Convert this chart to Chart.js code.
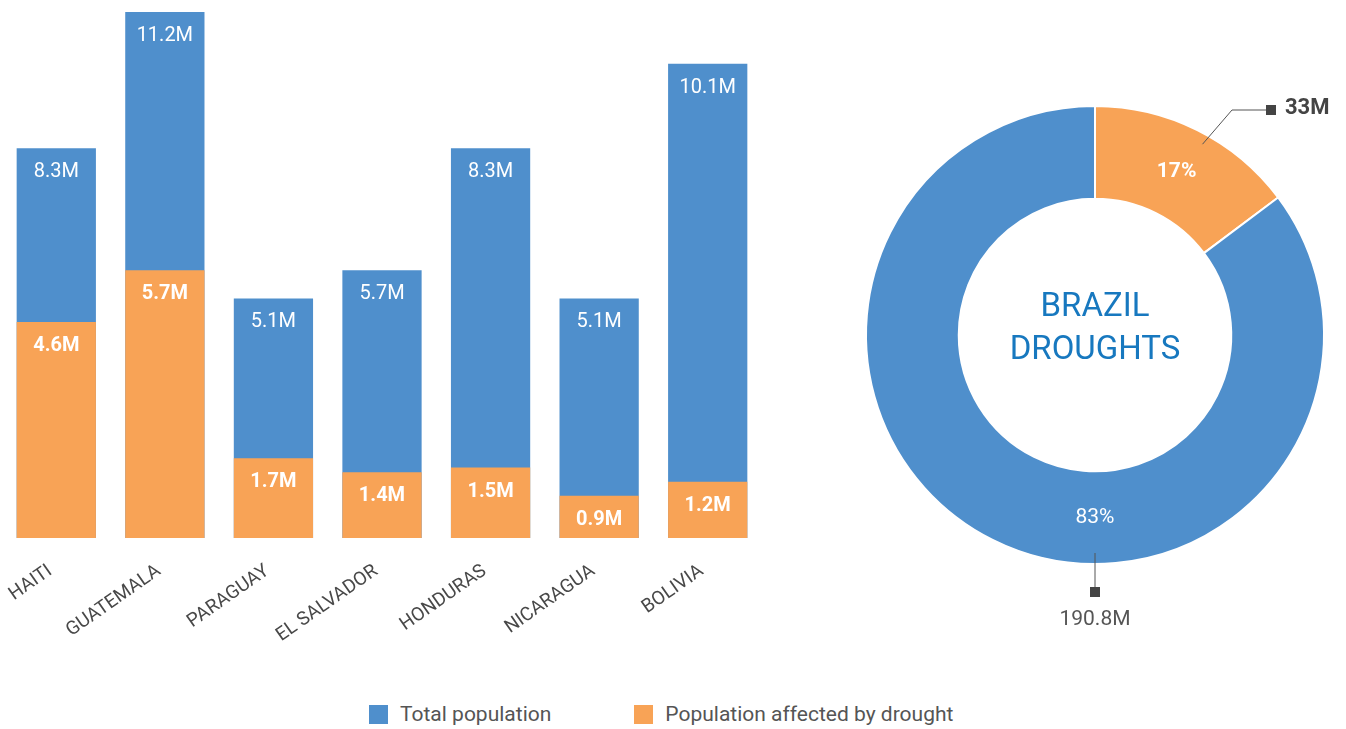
<!DOCTYPE html>
<html>
<head>
<meta charset="utf-8">
<title>Population affected by drought</title>
<script src="https://cdn.jsdelivr.net/npm/chart.js@4.4.1/dist/chart.umd.min.js"></script>
<style>
  html, body { margin: 0; padding: 0; background: #fff; overflow: hidden; }
  body { width: 1346px; height: 729px; position: relative; font-family: Roboto, "Noto Sans", sans-serif; }
  #barWrap { position: absolute; left: 0; top: 0; width: 770px; height: 660px; }
  #pieWrap { position: absolute; left: 845px; top: 75px; width: 500px; height: 580px; }
  #legend { position: absolute; left: 369px; top: 702px; display: flex; align-items: center; color: #555; font-size: 21px; }
  .item { display: flex; align-items: center; margin-right: 83px; }
  .box { width: 19px; height: 19px; margin-right: 12px; }
</style>
</head>
<body>
<div id="barWrap"><canvas id="bars"></canvas></div>
<div id="pieWrap"><canvas id="donut"></canvas></div>
<div id="legend"></div>
<script>
// Countries and populations (millions)
const countries = ['HAITI', 'GUATEMALA', 'PARAGUAY', 'EL SALVADOR', 'HONDURAS', 'NICARAGUA', 'BOLIVIA'];
const totalPopulation = [8.3, 11.2, 5.1, 5.7, 8.3, 5.1, 10.1];
const affectedPopulation = [4.6, 5.7, 1.7, 1.4, 1.5, 0.9, 1.2];

// Brazil: affected vs. rest of population (millions)
const brazilLabels = ['Affected by drought', 'Not affected'];
const brazilValues = [33, 190.8];
const brazilShares = ['17%', '83%'];
const brazilTitle = ['BRAZIL', 'DROUGHTS'];

const seriesNames = ['Total population', 'Population affected by drought'];
const BLUE = '#4F8FCC';
const ORANGE = '#F8A356';
const FONT = 'Roboto, "Noto Sans", sans-serif';

const fmt = v => v.toFixed(1) + 'M';

// Legend
const legend = document.getElementById('legend');
[[seriesNames[0], BLUE], [seriesNames[1], ORANGE]].forEach(([name, color]) => {
  const item = document.createElement('div');
  item.className = 'item';
  const box = document.createElement('span');
  box.className = 'box';
  box.style.background = color;
  const txt = document.createElement('span');
  txt.textContent = name;
  item.appendChild(box);
  item.appendChild(txt);
  legend.appendChild(item);
});

// Value labels inside each bar, just below its top
const barValueLabels = {
  id: 'barValueLabels',
  afterDatasetsDraw(chart) {
    const ctx = chart.ctx;
    chart.data.datasets.forEach((ds, i) => {
      chart.getDatasetMeta(i).data.forEach((bar, j) => {
        ctx.save();
        ctx.fillStyle = '#ffffff';
        ctx.font = (i === 1 ? 'bold ' : '') + '20px ' + FONT;
        ctx.textAlign = 'center';
        ctx.textBaseline = 'middle';
        ctx.fillText(fmt(ds.data[j]), bar.x, bar.y + 24);
        ctx.restore();
      });
    });
  }
};

new Chart(document.getElementById('bars'), {
  type: 'bar',
  data: {
    labels: countries,
    datasets: [
      { label: seriesNames[0], data: totalPopulation, backgroundColor: BLUE, order: 2 },
      { label: seriesNames[1], data: affectedPopulation, backgroundColor: ORANGE, order: 1 }
    ]
  },
  options: {
    responsive: true,
    maintainAspectRatio: false,
    animation: false,
    grouped: false,
    categoryPercentage: 1,
    barPercentage: 0.73,
    layout: { padding: { left: 2, right: 8, top: 12, bottom: 0 } },
    plugins: { legend: { display: false }, tooltip: { enabled: false } },
    scales: {
      x: {
        grid: { display: false, drawTicks: false },
        border: { display: false },
        ticks: {
          minRotation: 35, maxRotation: 35, padding: 22, labelOffset: -6,
          color: '#484848', font: { family: FONT, size: 19 }
        },
        afterFit(scale) {
          scale.height = 122;
          scale.paddingLeft = 0;
          scale.paddingRight = 0;
        }
      },
      y: { display: false, min: 0, max: 11.2 }
    }
  },
  plugins: [barValueLabels]
});

// Percent labels, centre title and callouts for the doughnut
const donutDecor = {
  id: 'donutDecor',
  afterDatasetsDraw(chart) {
    const ctx = chart.ctx;
    const arcs = chart.getDatasetMeta(0).data;
    const a0 = arcs[0];
    const cx = a0.x, cy = a0.y, R = a0.outerRadius, r = a0.innerRadius;
    const mid = (R + r) / 2;
    const pol = (ang, rad) => [cx + Math.cos(ang) * rad, cy + Math.sin(ang) * rad];

    ctx.save();
    ctx.textAlign = 'center';
    ctx.textBaseline = 'middle';

    // centre title
    ctx.fillStyle = '#1778BF';
    ctx.font = '33px ' + FONT;
    ctx.fillText(brazilTitle[0], cx, cy - 27);
    ctx.fillText(brazilTitle[1], cx, cy + 16);

    // share labels
    const ang0 = (a0.startAngle + a0.endAngle) / 2;
    const ang1 = Math.PI / 2;
    ctx.fillStyle = '#ffffff';
    ctx.font = 'bold 21px ' + FONT;
    let p = pol(ang0, mid);
    ctx.fillText(brazilShares[0], p[0], p[1]);
    ctx.font = '21px ' + FONT;
    p = pol(ang1, mid);
    ctx.fillText(brazilShares[1], p[0], p[1]);

    // callout for the affected slice
    ctx.strokeStyle = '#555';
    ctx.lineWidth = 1;
    ctx.fillStyle = '#444';
    const s0 = pol(ang0 + 0.05, R - 10);
    const e0 = [cx + 137, cy - 225];
    ctx.beginPath();
    ctx.moveTo(s0[0], s0[1]);
    ctx.lineTo(e0[0], e0[1]);
    ctx.lineTo(e0[0] + 34, e0[1]);
    ctx.stroke();
    ctx.fillRect(e0[0] + 34, e0[1] - 5, 10, 10);
    ctx.textAlign = 'left';
    ctx.font = 'bold 22px ' + FONT;
    ctx.fillText(brazilValues[0] + 'M', e0[0] + 53, e0[1] - 2);

    // callout for the remaining slice
    const s1 = pol(ang1, R - 11);
    ctx.beginPath();
    ctx.moveTo(s1[0], s1[1]);
    ctx.lineTo(s1[0], s1[1] + 34);
    ctx.stroke();
    ctx.fillRect(s1[0] - 5, s1[1] + 34, 10, 10);
    ctx.textAlign = 'center';
    ctx.fillStyle = '#555';
    ctx.font = '21px ' + FONT;
    ctx.fillText(brazilValues[1].toFixed(1) + 'M', s1[0], s1[1] + 67);
    ctx.restore();
  }
};

new Chart(document.getElementById('donut'), {
  type: 'doughnut',
  data: {
    labels: brazilLabels,
    datasets: [{
      data: brazilValues,
      backgroundColor: [ORANGE, BLUE],
      borderColor: '#ffffff',
      borderWidth: 2
    }]
  },
  options: {
    responsive: true,
    maintainAspectRatio: false,
    animation: false,
    cutout: '59.5%',
    layout: { padding: { left: 20, right: 20, top: 30, bottom: 90 } },
    plugins: { legend: { display: false }, tooltip: { enabled: false } }
  },
  plugins: [donutDecor]
});
</script>
</body>
</html>
